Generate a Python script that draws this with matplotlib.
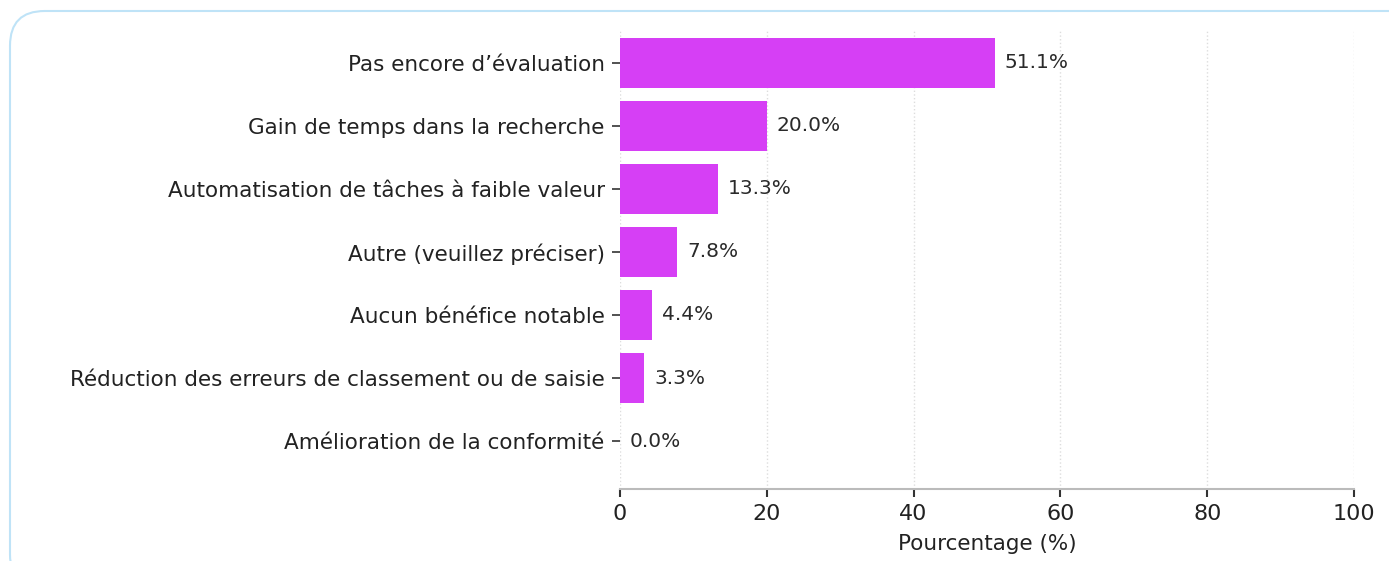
import matplotlib
matplotlib.use("Agg")
import matplotlib.pyplot as plt
from matplotlib.patches import FancyBboxPatch

categories = [
    "Pas encore d’évaluation",
    "Gain de temps dans la recherche",
    "Automatisation de tâches à faible valeur",
    "Autre (veuillez préciser)",
    "Aucun bénéfice notable",
    "Réduction des erreurs de classement ou de saisie",
    "Amélioration de la conformité",
]
values = [51.1, 20.0, 13.3, 7.8, 4.4, 3.3, 0.0]
xticks = [0, 20, 40, 60, 80, 100]

plt.rcParams['font.family'] = ['DejaVu Sans']

fig = plt.figure(figsize=(13.89, 5.61), dpi=100)
border = FancyBboxPatch((10/1389, -0.05), 1.2, 1 - 11/561 + 0.05,
                        boxstyle="round,pad=0,rounding_size=0.025",
                        transform=fig.transFigure, facecolor='white',
                        edgecolor='#bfe3f7', linewidth=1.5,
                        mutation_aspect=1389/561, zorder=-5)
fig.patches.append(border)

ax = fig.add_axes([620/1389, 1 - 489/561, (1354 - 620)/1389, (489 - 30)/561])
ax.set_zorder(2)
ax.set_facecolor('none')
y = list(range(len(categories)))
ax.barh(y, values, height=0.8, color='#d63ff5', zorder=2)
for yi, v in zip(y, values):
    ax.annotate(f"{v:.1f}%", xy=(v, yi), xytext=(7, 0), textcoords='offset points',
                va='center', ha='left', fontsize=14.5, color='#2a2a2a')

ax.set_yticks(y)
ax.set_yticklabels(categories, fontsize=15.5, color='#222222')
ax.set_ylim(6.76, -0.52)
ax.set_xlim(0, 100)
ax.set_xticks(xticks)
ax.set_xticklabels([str(t) for t in xticks], fontsize=16, color='#222222')
ax.set_xlabel("Pourcentage (%)", fontsize=15.5, color='#222222', labelpad=7)
ax.grid(axis='x', color='#dddddd', linestyle=':', linewidth=1, zorder=0)
for s in ['top', 'right', 'left']:
    ax.spines[s].set_visible(False)
ax.spines['bottom'].set_color('#bbbbbb')
ax.spines['bottom'].set_linewidth(1.5)
ax.tick_params(axis='y', length=6, width=1.2, color='#333333', pad=5)
ax.tick_params(axis='x', length=6, width=1.5, color='#333333', pad=5)

fig.savefig("out.png", dpi=100)
